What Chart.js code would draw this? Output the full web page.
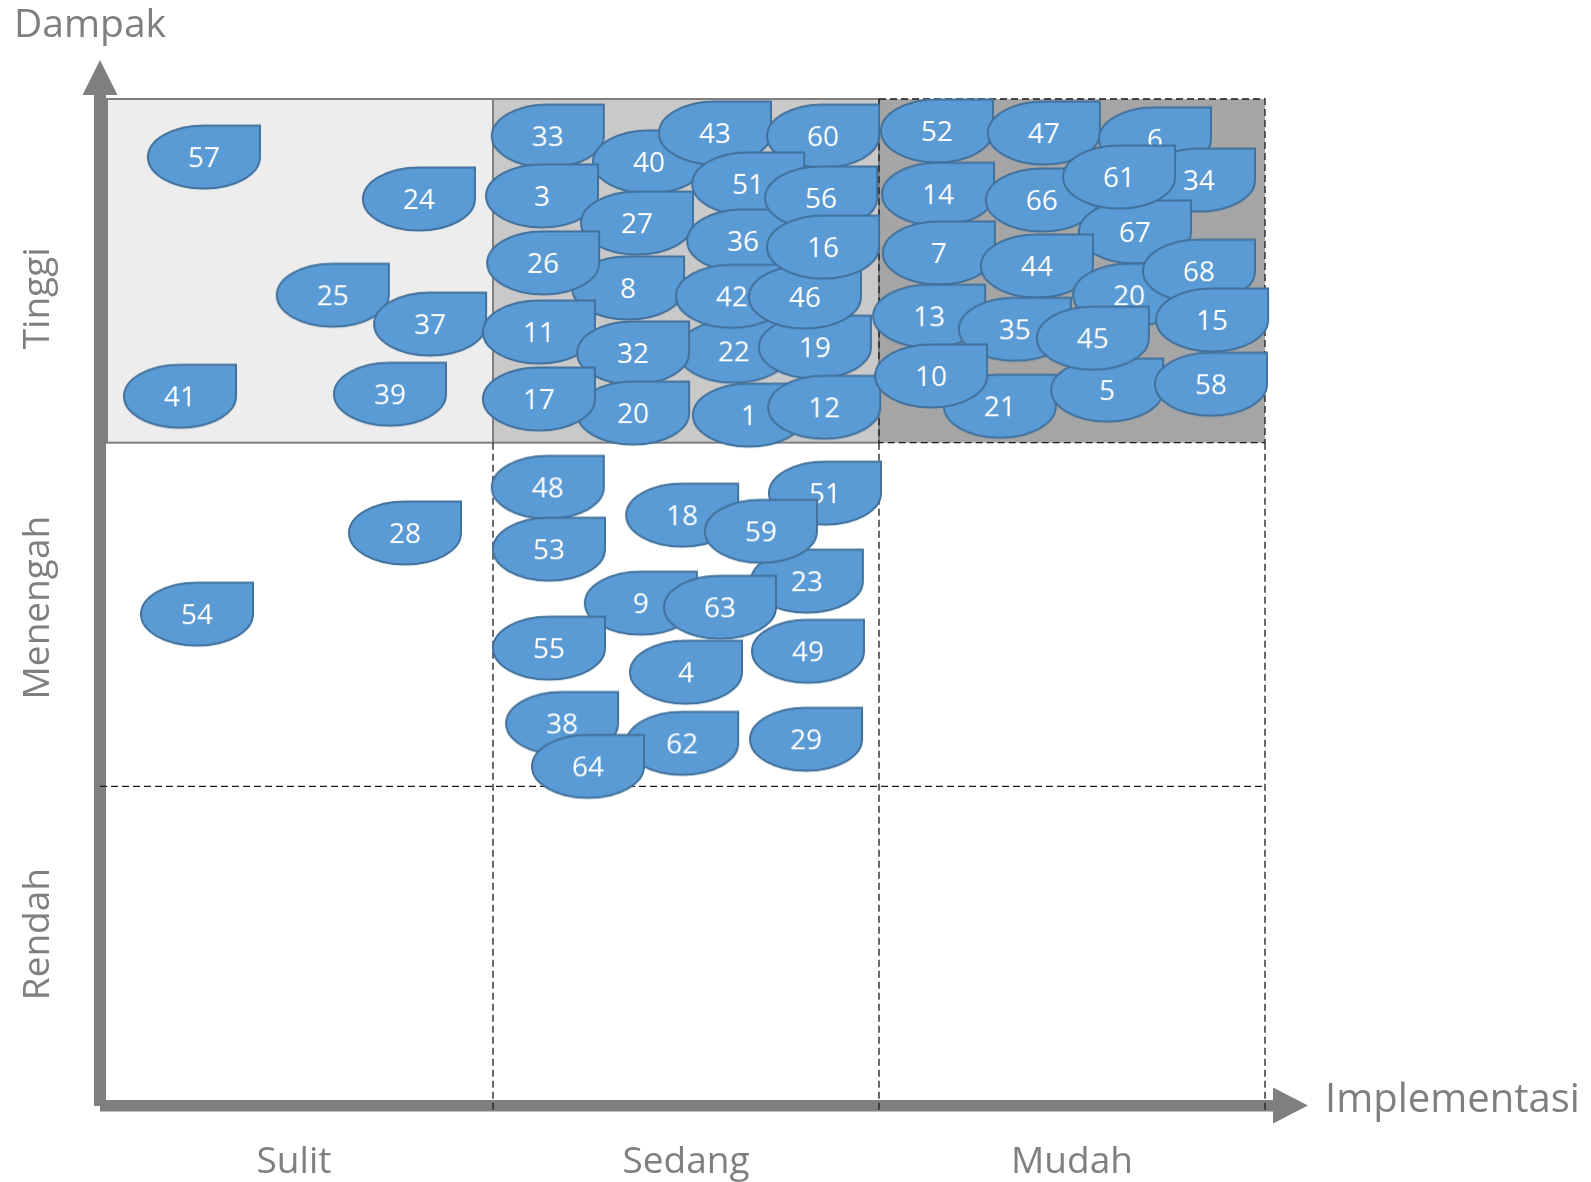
<!DOCTYPE html>
<html>
<head>
<meta charset="utf-8">
<title>Matriks Dampak - Implementasi</title>
<script src="https://cdn.jsdelivr.net/npm/chart.js@4.4.1/dist/chart.umd.min.js"></script>
<style>
    html, body { margin: 0; padding: 0; background: #fff; }
    #wrap { width: 1591px; height: 1182px; }
</style>
</head>
<body>
<div id="wrap"><canvas id="matrix" width="1591" height="1182"></canvas></div>
<script>
// Item numbers, in drawing order (later ones sit on top of earlier ones)
const itemLabels = [
    57, 24, 25, 37, 41, 39, 28, 54,
    33, 40, 43, 3, 60, 51, 27, 8, 26, 36, 56, 22, 11, 32, 42, 19, 46, 16, 20, 17, 1, 12,
    52, 47, 6, 14, 34, 66, 67, 61, 7, 44, 13, 35, 21, 10, 5, 20, 68, 45, 15, 58,
    48, 53, 18, 51, 23, 59, 9, 63, 55, 4, 49, 38, 62, 64, 29
];

// Implementasi score: 0-1 sulit, 1-2 sedang, 2-3 mudah
const implementasiScores = [
    0.251, 0.808, 0.585, 0.837, 0.189, 0.733, 0.772, 0.233,
    1.142, 1.404, 1.575, 1.127, 1.855, 1.661, 1.373, 1.350, 1.130, 1.648, 1.850, 1.624, 1.119,
    1.363, 1.619, 1.834, 1.808, 1.855, 1.363, 1.119, 1.663, 1.858,
    2.150, 2.427, 2.715, 2.153, 2.829, 2.422, 2.663, 2.622, 2.155, 2.409, 2.130, 2.352, 2.313,
    2.135, 2.591, 2.648, 2.829, 2.554, 2.863, 2.860,
    1.142, 1.145, 1.490, 1.860, 1.813, 1.694, 1.383, 1.588, 1.145, 1.500, 1.816, 1.179, 1.490,
    1.246, 1.811
];

// Dampak score: 0-1 rendah, 1-2 menengah, 2-3 tinggi
const dampakScores = [
    2.831, 2.709, 2.429, 2.345, 2.135, 2.141, 1.737, 1.501,
    2.892, 2.817, 2.901, 2.718, 2.892, 2.753, 2.639, 2.450, 2.523, 2.587, 2.712, 2.266, 2.322,
    2.261, 2.426, 2.278, 2.424, 2.569, 2.086, 2.127, 2.080, 2.103,
    2.907, 2.901, 2.884, 2.723, 2.764, 2.706, 2.613, 2.773, 2.552, 2.514, 2.368, 2.330, 2.106,
    2.194, 2.153, 2.429, 2.499, 2.304, 2.357, 2.170,
    1.870, 1.690, 1.789, 1.853, 1.597, 1.742, 1.533, 1.521, 1.402, 1.332, 1.393, 1.183, 1.125,
    1.058, 1.137
];

const implementasiLevels = ['Sulit', 'Sedang', 'Mudah'];
const dampakLevels = ['Rendah', 'Menengah', 'Tinggi'];
const xTitle = 'Implementasi';
const yTitle = 'Dampak';

const colors = {
    dropFill: '#5b9bd5',
    dropLine: '#41719c',
    label: '#7f7f7f',
    axis: '#7f7f7f',
    dash: '#1a1a1a',
    zones: ['#ededed', '#c9c9c9', '#a5a5a5']
};

// Teardrop marker: ellipse with a square top-right corner, number in the middle
function makeDrop(label) {
    const w = 112, h = 63;
    const c = document.createElement('canvas');
    c.width = w + 4;
    c.height = 68;
    const g = c.getContext('2d');
    const cx = c.width / 2, cy = c.height / 2, rx = w / 2, ry = h / 2;
    g.beginPath();
    g.moveTo(cx, cy - ry);
    g.lineTo(cx + rx, cy - ry);
    g.lineTo(cx + rx, cy);
    g.ellipse(cx, cy, rx, ry, 0, 0, Math.PI * 1.5);
    g.closePath();
    g.fillStyle = colors.dropFill;
    g.fill();
    g.lineWidth = 2;
    g.strokeStyle = colors.dropLine;
    g.stroke();
    g.fillStyle = '#fff';
    g.font = '28px "Open Sans"';
    g.textAlign = 'center';
    g.textBaseline = 'alphabetic';
    g.fillText(String(label), cx, cy + 10);
    return c;
}

// Zones, dashed grid, arrows and text, all under the markers
const backdrop = {
    id: 'backdrop',
    beforeDatasetsDraw(chart) {
        const { ctx, chartArea: a, scales: { x, y } } = chart;
        const col = [0, 1, 2, 3].map(v => x.getPixelForValue(v));
        const row = [0, 1, 2, 3].map(v => y.getPixelForValue(v));
        const axisX = a.left - 7;
        const axisY = a.bottom - 24.5;

        ctx.save();

        // top row zones
        for (let i = 0; i < 3; i++) {
            ctx.fillStyle = colors.zones[i];
            ctx.fillRect(col[i], row[3], col[i + 1] - col[i], row[2] - row[3]);
        }
        ctx.strokeStyle = colors.axis;
        ctx.lineWidth = 2;
        ctx.strokeRect(col[0], row[3], col[1] - col[0], row[2] - row[3]);
        ctx.strokeRect(col[1], row[3], col[2] - col[1], row[2] - row[3]);

        // arrows
        ctx.fillStyle = colors.axis;
        ctx.fillRect(axisX - 6, a.top - 4, 12, axisY + 0.5 - (a.top - 4));
        ctx.beginPath();
        ctx.moveTo(axisX, a.top - 39);
        ctx.lineTo(axisX + 17.5, a.top - 4);
        ctx.lineTo(axisX - 17.5, a.top - 4);
        ctx.closePath();
        ctx.fill();
        ctx.fillRect(axisX, axisY - 5.5, a.right + 8 - axisX, 11.5);
        ctx.beginPath();
        ctx.moveTo(a.right + 8, axisY - 18);
        ctx.lineTo(a.right + 43, axisY);
        ctx.lineTo(a.right + 8, axisY + 18);
        ctx.closePath();
        ctx.fill();

        // dashed grid
        ctx.strokeStyle = colors.dash;
        ctx.lineWidth = 1.3;
        ctx.setLineDash([7, 4]);
        ctx.strokeRect(col[2], row[3], col[3] - col[2], row[2] - row[3]);
        ctx.beginPath();
        ctx.moveTo(axisX, row[1]);
        ctx.lineTo(col[3], row[1]);
        for (let i = 1; i <= 3; i++) {
            ctx.moveTo(col[i], row[2]);
            ctx.lineTo(col[i], axisY + 6);
        }
        ctx.stroke();
        ctx.setLineDash([]);

        // text
        ctx.fillStyle = colors.label;
        ctx.textBaseline = 'alphabetic';
        ctx.textAlign = 'left';
        ctx.font = '39px "Open Sans"';
        ctx.fillText(yTitle, a.left - 93, a.top - 62);
        ctx.font = '40px "Open Sans"';
        ctx.fillText(xTitle, a.right + 60, axisY + 6);
        ctx.font = '37px "Open Sans"';
        ctx.textAlign = 'center';
        const colLabelShift = [-6, 0, 0];
        implementasiLevels.forEach((name, i) => {
            ctx.fillText(name, x.getPixelForValue(i + 0.5) + colLabelShift[i], a.bottom + 43);
        });
        const rowLabelAt = [0.57, 1.52, 2.42];
        dampakLevels.forEach((name, i) => {
            ctx.save();
            ctx.translate(a.left - 58, y.getPixelForValue(rowLabelAt[i]));
            ctx.rotate(-Math.PI / 2);
            ctx.fillText(name, 0, 0);
            ctx.restore();
        });

        ctx.restore();
    }
};

const points = itemLabels.map((n, i) => ({ x: implementasiScores[i], y: dampakScores[i] }));

new Chart(document.getElementById('matrix'), {
    type: 'scatter',
    data: {
        datasets: [{
            data: points,
            pointStyle: itemLabels.map(makeDrop),
            pointRadius: 20,
            clip: false
        }]
    },
    options: {
        responsive: false,
        animation: false,
        events: [],
        layout: { padding: { left: 107, right: 326, top: 99, bottom: 52 } },
        scales: {
            x: { type: 'linear', min: 0, max: 3, display: false },
            y: { type: 'linear', min: 0, max: 3, display: false }
        },
        plugins: {
            legend: { display: false },
            tooltip: { enabled: false }
        }
    },
    plugins: [backdrop]
});
</script>
</body>
</html>
